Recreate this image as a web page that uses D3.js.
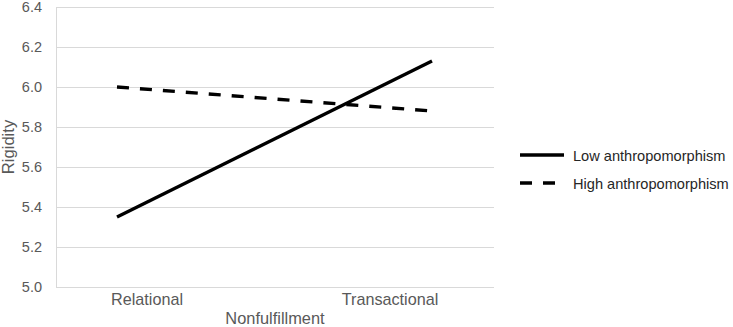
<!DOCTYPE html>
<html><head><meta charset="utf-8">
<script src="https://cdn.jsdelivr.net/npm/d3@7"></script>
<style>body{margin:0;background:#fff}svg{display:block;font-family:"Liberation Sans",Arial,sans-serif}</style>
</head><body><svg id="c" width="733" height="327"></svg>
<script>
const categories = ["Relational", "Transactional"];
const seriesNames = ["Low anthropomorphism", "High anthropomorphism"];
const lowValues = [5.35, 6.13];
const highValues = [6.00, 5.88];
const yTicks = [5.0, 5.2, 5.4, 5.6, 5.8, 6.0, 6.2, 6.4];
const xTitle = "Nonfulfillment";
const yTitle = "Rigidity";

(function () {
const svg = d3.select("#c");
const pLeft = 56, pRight = 494, pTop = 7, pBottom = 287;
const y = d3.scaleLinear().domain([5.0, 6.4]).range([pBottom, pTop]);
const xLine = d3.scalePoint().domain(categories).range([117, 432]);
const xLab = d3.scalePoint().domain(categories).range([147, 390]);

// gridlines
svg.append("g").selectAll("line").data(yTicks).join("line")
  .attr("x1", pLeft).attr("x2", pRight)
  .attr("y1", d => y(d) + 0.5).attr("y2", d => y(d) + 0.5)
  .attr("stroke", "#d9d9d9").attr("stroke-width", 1);
svg.append("line").attr("x1", pLeft + 0.5).attr("x2", pLeft + 0.5)
  .attr("y1", pTop).attr("y2", pBottom + 1).attr("stroke", "#d9d9d9");

// y tick labels
svg.append("g").selectAll("text").data(yTicks).join("text")
  .attr("x", 42).attr("y", d => y(d) + 5)
  .attr("text-anchor", "end").attr("font-size", 14.5).attr("fill", "#595959")
  .text(d => d3.format(".1f")(d));

// x tick labels
svg.append("g").selectAll("text").data(categories).join("text")
  .attr("x", d => xLab(d)).attr("y", 305)
  .attr("text-anchor", "middle").attr("font-size", 16.2).attr("fill", "#595959")
  .text(d => d);

svg.append("text").attr("x", 275).attr("y", 324).attr("text-anchor", "middle")
  .attr("font-size", 16.4).attr("fill", "#595959").text(xTitle);
svg.append("text").attr("transform", "translate(14,147) rotate(-90)")
  .attr("text-anchor", "middle").attr("font-size", 16.6).attr("fill", "#595959").text(yTitle);

const line = d3.line().x((d, i) => xLine(categories[i])).y(d => y(d));
const dashes = [null, "12,11"];
[lowValues, highValues].forEach((vals, k) => {
  svg.append("path").attr("d", line(vals)).attr("fill", "none")
    .attr("stroke", "#000").attr("stroke-width", 3.4)
    .attr("stroke-dasharray", dashes[k]);
});

// legend
const lg = svg.append("g");
seriesNames.forEach((name, k) => {
  const ly = 155 + k * 28;
  lg.append("line").attr("x1", 520).attr("x2", 564).attr("y1", ly).attr("y2", ly)
    .attr("stroke", "#000").attr("stroke-width", 3.4)
    .attr("stroke-dasharray", k === 1 ? "12,11" : null);
  lg.append("text").attr("x", 573).attr("y", ly + 5.5).attr("font-size", 14.6)
    .attr("fill", "#262626").text(name);
});
})();
</script></body></html>
